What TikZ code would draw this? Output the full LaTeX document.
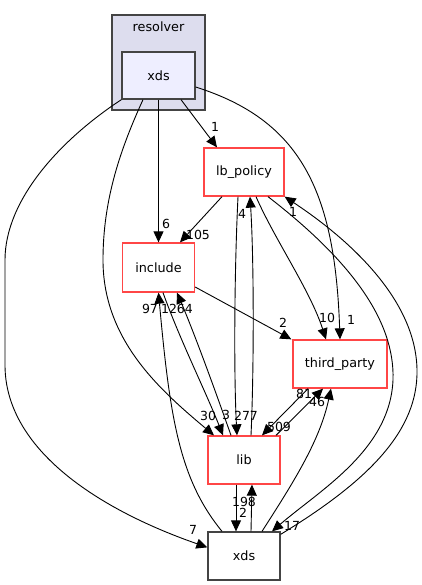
\documentclass[tikz,border=0pt]{standalone}
\usepackage{fontspec}
\setmainfont{DejaVu Sans}
\usetikzlibrary{arrows.meta,calc}
\definecolor{clfill}{HTML}{DDDDEE}
\definecolor{xfill}{HTML}{EEEEFF}
\definecolor{bord}{HTML}{444444}
\definecolor{redb}{RGB}{255,70,70}
\tikzset{
  dirbox/.style={draw=redb, line width=1.3pt, fill=white, inner sep=0pt, font=\fontsize{12.8}{15}\selectfont},
  greybox/.style={draw=bord, line width=1.3pt, inner sep=0pt, font=\fontsize{12.8}{15}\selectfont},
  elab/.style={inner sep=0pt, font=\fontsize{12.5}{15}\selectfont},
  dep/.style={draw=black, line width=0.9pt, -{Triangle[length=11pt,width=10pt]}},
}
\begin{document}
\begin{tikzpicture}[x=1pt,y=-1pt]
\useasboundingbox (0,0) rectangle (422,585);
% cluster
\node[greybox, fill=clfill, minimum width=93pt, minimum height=95pt] (cl) at (158.5,62.5) {};
\node[elab, font=\fontsize{12.8}{15}\selectfont] (rl) at (158.5,27) {resolver};
\node[greybox, fill=xfill, minimum width=73pt, minimum height=47pt] (xdsA) at (158.5,75.5) {xds};
% nodes
\node[dirbox, minimum width=80pt, minimum height=48pt] (lb) at (244,172) {lb\_policy};
\node[dirbox, minimum width=72pt, minimum height=49pt] (inc) at (158.5,267.5) {include};
\node[dirbox, minimum width=94pt, minimum height=48pt] (tp) at (340,364) {third\_party};
\node[dirbox, minimum width=72pt, minimum height=48pt] (lib) at (244,460) {lib};
\node[greybox, fill=white, minimum width=72pt, minimum height=48pt] (xdsB) at (244,556) {xds};
% edges from resolver/xds
\draw[dep] ([xshift=22.5pt]xdsA.south) -- ([xshift=-27pt]lb.north);
\draw[dep] (xdsA.south) -- (inc.north);
\draw[dep] ([xshift=-15.5pt]xdsA.south) .. controls (120,150) and (103,200) .. (103,260)
   .. controls (103,340) and (160,390) .. ([xshift=-30pt]lib.north);
\draw[dep] (xdsA.south west) .. controls (60,140) and (5,200) .. (5,260) -- (5,365)
   .. controls (5,450) and (100,510) .. ([yshift=-16pt]xdsB.north west);
\draw[dep] ([yshift=-11.5pt]xdsA.east) .. controls (300,120) and (335,190) .. (tp.north);
% from lb_policy
\draw[dep] ([xshift=-22pt]lb.south) -- ([xshift=21.5pt]inc.north);
\draw[dep] ([xshift=-6pt]lb.south) .. controls (234,280) and (234,380) .. ([xshift=-7pt]lib.north);
\draw[dep] ([xshift=7pt]lib.north) .. controls (254,370) and (254,260) .. ([xshift=6pt]lb.south);
\draw[dep] ([xshift=12pt]lb.south) .. controls (275,240) and (310,290) .. ([xshift=-14pt]tp.north);
\draw[dep] ([xshift=24pt]lb.south) .. controls (350,260) and (395,320) .. (393,380)
   .. controls (390,450) and (320,490) .. ([xshift=28pt]xdsB.north);
\draw[dep] ([yshift=-3pt]xdsB.north east) .. controls (370,480) and (418,430) .. (417,370)
   .. controls (416,300) and (350,240) .. (lb.south east);
% include
\draw[dep] ([yshift=-19.5pt]inc.east) -- ([xshift=-1pt]tp.north west);
\draw[dep] ([xshift=-22pt]xdsB.north) .. controls (180,480) and (170,420) .. (inc.south);
\draw[dep] ([xshift=4.5pt]inc.south) .. controls (180,340) and (205,390) .. ([xshift=-21pt]lib.north);
\draw[dep] ([xshift=-13pt]lib.north) .. controls (215,390) and (195,335) .. ([xshift=18.5pt]inc.south);
% lib / third_party / xds
\draw[dep] ([xshift=32pt]lib.north) -- ([xshift=-17pt]tp.south);
\draw[dep] ([xshift=-32pt]tp.south) -- ([xshift=18pt]lib.north);
\draw[dep] ([xshift=18pt]xdsB.north) .. controls (295,480) and (320,440) .. ([xshift=-9pt]tp.south);
\draw[dep] ([xshift=-8pt]lib.south) -- ([xshift=-8pt]xdsB.north);
\draw[dep] ([xshift=7pt]xdsB.north) -- ([xshift=8pt]lib.south);
% labels
\node[elab] (t1) at (215,127) {1};
\node[elab] (t2) at (166,224) {6};
\node[elab] (t3) at (208,416) {30};
\node[elab] (t4) at (193,530) {7};
\node[elab] (t5) at (351,320) {1};
\node[elab] (t6) at (198,235) {105};
\node[elab] (t7) at (242,214) {4};
\node[elab] (t8) at (293,212) {1};
\node[elab] (t9) at (150,309) {97};
\node[elab] (t10) at (177,309) {1264};
\node[elab] (t11) at (283,323) {2};
\node[elab] (t12) at (327,318) {10};
\node[elab] (t13) at (304,394) {81};
\node[elab] (t14) at (317,402) {46};
\node[elab] (t15) at (279,427) {509};
\node[elab] (t16) at (226,415) {3};
\node[elab] (t17) at (246,416) {277};
\node[elab] (t18) at (244,502) {198};
\node[elab] (t19) at (243,513) {2};
\node[elab] (t20) at (292,526) {17};
\end{tikzpicture}
\end{document}
